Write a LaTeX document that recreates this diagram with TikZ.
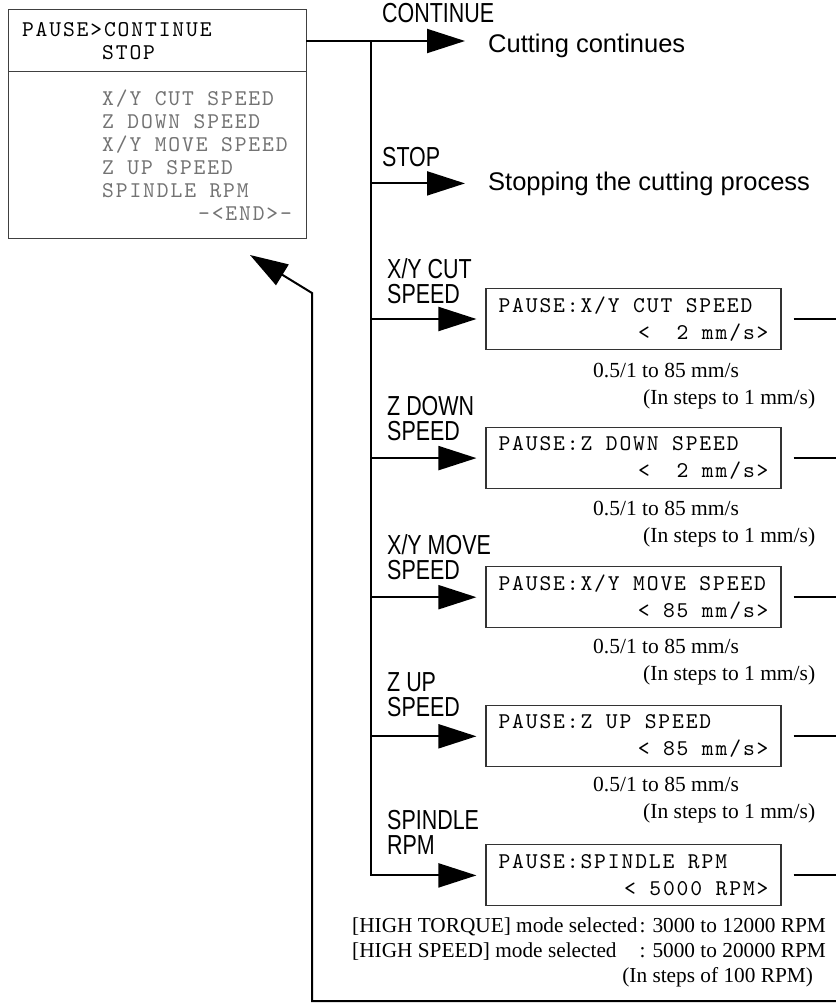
\documentclass[tikz,border=0pt]{standalone}
\usepackage{fontspec}
\setmainfont{Liberation Serif}
\newfontfamily\lcdfont{lmmono10-regular}[Extension=.otf, LetterSpace=8.3]
\newfontfamily\lblfont{Liberation Sans}[FakeStretch=0.78]
\newfontfamily\msgfont{Liberation Sans}
\usetikzlibrary{arrows.meta, positioning}

\newcommand{\lcdfnt}{\lcdfont\fontsize{22.5}{27}\selectfont}
\newcommand{\menufnt}{\lcdfont\fontsize{22.5}{23}\selectfont}
\newcommand{\lcdsp}{\spaceskip=13.44pt\relax}
\newcommand{\lblfnt}{\lblfont\fontsize{27.5}{25.5}\selectfont}
\newcommand{\msgfnt}{\msgfont\fontsize{25.5}{30}\selectfont}
\newcommand{\rngfnt}{\fontsize{21.5}{27}\selectfont}
\newcommand{\notefnt}{\fontsize{21.3}{25}\selectfont}
\newcommand{\lcdtext}[2]{\lcdsp#1\\\hbox to 270pt{\hfil #2}}

\begin{document}
\begin{tikzpicture}[
  x=1pt, y=-1pt,
  lcdbox/.style={draw=black!80, line width=1.1pt, text width=270pt, inner xsep=12.5pt,
    inner ysep=2pt, minimum height=61pt, align=left, font=\lcdfnt},
  menubox/.style={draw=black!75, line width=1pt, text width=270pt, inner xsep=14pt,
    inner ysep=2pt, outer sep=0pt, align=left, font=\menufnt},
  lbl/.style={inner sep=0pt, align=left, font=\lblfnt},
  msg/.style={inner sep=0pt, anchor=base west, font=\msgfnt},
  rng/.style={inner sep=0pt, anchor=north west, align=left, font=\rngfnt},
  edge/.style={line width=2pt},
  branch/.style={edge, -{Triangle[length=38pt, width=24pt]}, shorten >=9pt}
]
\useasboundingbox (0,0) rectangle (835,1003);

% pause menu
\node[menubox, anchor=north west, minimum height=62pt] (menutop) at (8,10)
  {\lcdsp PAUSE>CONTINUE\\\phantom{PAUSE>}STOP};
\node[menubox, below=0pt of menutop, minimum height=166pt, text=black!55] (menulist)
  {\lcdsp\phantom{PAUSE>}X/Y CUT SPEED\\
   \phantom{PAUSE>}Z DOWN SPEED\\
   \phantom{PAUSE>}X/Y MOVE SPEED\\
   \phantom{PAUSE>}Z UP SPEED\\
   \phantom{PAUSE>}SPINDLE RPM\\
   \hbox to 270pt{\hfil -<END>-}};

% results
\node[lbl, anchor=base west] (contlbl) at (382,23) {CONTINUE};
\node[msg] (contmsg) at (488,53) {Cutting continues};
\node[lbl, anchor=base west] (stoplbl) at (382,167) {STOP};
\node[msg] (stopmsg) at (488,190) {Stopping the cutting process};

% setting screens
\node[lcdbox] (xycut) at (633.5,319) {\lcdtext{PAUSE:X/Y CUT SPEED}{<\ \ 2 mm/s>}};
\node[lcdbox, below=77pt of xycut] (zdown) {\lcdtext{PAUSE:Z DOWN SPEED}{<\ \ 2 mm/s>}};
\node[lcdbox, below=77pt of zdown] (xymove) {\lcdtext{PAUSE:X/Y MOVE SPEED}{< 85 mm/s>}};
\node[lcdbox, below=77pt of xymove] (zup) {\lcdtext{PAUSE:Z UP SPEED}{< 85 mm/s>}};
\node[lcdbox, below=77pt of zup] (spindle) {\lcdtext{PAUSE:SPINDLE RPM}{< 5000 RPM>}};

\node[lbl, anchor=north west] (xycutlbl) at (387,258) {X/Y CUT\\SPEED};
\node[lbl, anchor=north west] (zdownlbl) at (387,396) {Z DOWN\\SPEED};
\node[lbl, anchor=north west] (xymovelbl) at (387,534) {X/Y MOVE\\SPEED};
\node[lbl, anchor=north west] (zuplbl) at (387,672) {Z UP\\SPEED};
\node[lbl, anchor=north west] (spindlelbl) at (387,810) {SPINDLE\\RPM};

\node[rng] (xycutrng) at (593,362.5) {0.5/1 to 85 mm/s\\\hspace*{50pt}(In steps to 1 mm/s)};
\node[rng] (zdownrng) at (593,500.5) {0.5/1 to 85 mm/s\\\hspace*{50pt}(In steps to 1 mm/s)};
\node[rng] (xymoverng) at (593,638.5) {0.5/1 to 85 mm/s\\\hspace*{50pt}(In steps to 1 mm/s)};
\node[rng] (zuprng) at (593,776.5) {0.5/1 to 85 mm/s\\\hspace*{50pt}(In steps to 1 mm/s)};
\node[inner sep=0pt, anchor=base west, font=\notefnt] (spindlerng) at (352,932)
  {\begin{tabular}[t]{@{}l@{\hspace{2pt}}l@{}}
   [HIGH TORQUE] mode selected & : 3000 to 12000 RPM\\
   {[}HIGH SPEED] mode selected & : 5000 to 20000 RPM\\
   \multicolumn{2}{r}{(In steps of 100 RPM)\hspace*{7pt}}
   \end{tabular}};

% connectors
\coordinate (split) at (371,41);
\coordinate (bus) at (845,1001);
\coordinate (retbend) at (312,293);
\coordinate (rettip) at (250,255);

\draw[branch, shorten >=23pt] (menutop.east) -- (menutop.east -| contmsg.west);
\draw[branch, shorten >=23pt] (split |- stopmsg.west) -- (stopmsg.west);
\draw[branch] (split) |- (spindle.west);
\draw[branch] (split |- xycut.west) -- (xycut.west);
\draw[branch] (split |- zdown.west) -- (zdown.west);
\draw[branch] (split |- xymove.west) -- (xymove.west);
\draw[branch] (split |- zup.west) -- (zup.west);

\draw[edge, shorten <=12pt] (xycut.east) -- (xycut.east -| bus);
\draw[edge, shorten <=12pt] (zdown.east) -- (zdown.east -| bus);
\draw[edge, shorten <=12pt] (xymove.east) -- (xymove.east -| bus);
\draw[edge, shorten <=12pt] (zup.east) -- (zup.east -| bus);
\draw[edge, shorten <=12pt] (spindle.east) -- (spindle.east -| bus);

\draw[edge, -{Triangle[length=38pt, width=24pt]}] (bus) -| (retbend) -- (rettip);
\end{tikzpicture}
\end{document}
